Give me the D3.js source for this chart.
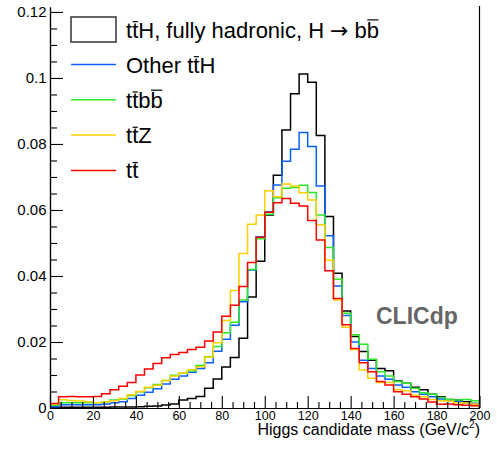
<!DOCTYPE html>
<html><head><meta charset="utf-8">
<script src="https://cdn.jsdelivr.net/npm/d3@7"></script>
<style>
body{margin:0;background:#fff}
svg{display:block}
text{font-family:"Liberation Sans",Arial,Helvetica,sans-serif}
</style>
</head><body>
<svg id="chart" width="497" height="449"></svg>
<script>
// ---- data ----
const binEdges = [0,4,8,12,16,20,24,28,32,36,40,44,48,52,56,60,64,68,72,76,80,84,88,92,96,100,
  104,108,112,116,120,124,128,132,136,140,144,148,152,156,160,164,168,172,176,180,184,188,192,196,200];

const ttHHadronic = [0.0001,0.0002,0.0002,0.0002,0.0002,0.0002,0.0002,0.0003,0.0003,0.0003,
  0.0004,0.0005,0.0006,0.0009,0.0012,0.0024,0.0029,0.0035,0.0060,0.0088,
  0.0124,0.0153,0.0211,0.0336,0.0445,0.0585,0.0705,0.0842,0.0952,0.1012,
  0.0987,0.0826,0.0580,0.0408,0.0294,0.0217,0.0171,0.0145,0.0120,0.0113,
  0.0082,0.0075,0.0063,0.0055,0.0042,0.0034,0.0026,0.0024,0.0019,0.0014];

const otherTTH = [0.0004,0.0010,0.0010,0.0010,0.0010,0.0010,0.0012,0.0016,0.0019,0.0029,
  0.0039,0.0048,0.0058,0.0073,0.0087,0.0097,0.0108,0.0120,0.0137,0.0172,
  0.0208,0.0251,0.0322,0.0418,0.0519,0.0595,0.0676,0.0748,0.0784,0.0835,
  0.0792,0.0673,0.0522,0.0370,0.0280,0.0200,0.0145,0.0120,0.0097,0.0087,
  0.0070,0.0063,0.0049,0.0042,0.0034,0.0027,0.0024,0.0019,0.0016,0.0014];

const ttbb = [0.0008,0.0016,0.0016,0.0016,0.0016,0.0016,0.0019,0.0024,0.0027,0.0038,
  0.0049,0.0061,0.0071,0.0083,0.0099,0.0105,0.0112,0.0129,0.0155,0.0186,
  0.0228,0.0260,0.0327,0.0420,0.0513,0.0587,0.0637,0.0666,0.0668,0.0675,
  0.0653,0.0585,0.0486,0.0390,0.0287,0.0222,0.0193,0.0148,0.0110,0.0097,
  0.0080,0.0075,0.0060,0.0046,0.0042,0.0032,0.0026,0.0024,0.0026,0.0022];

const ttZ = [0.0012,0.0025,0.0023,0.0021,0.0019,0.0016,0.0018,0.0022,0.0029,0.0040,
  0.0050,0.0063,0.0069,0.0083,0.0097,0.0106,0.0116,0.0125,0.0154,0.0198,
  0.0265,0.0356,0.0468,0.0557,0.0585,0.0658,0.0640,0.0679,0.0673,0.0652,
  0.0630,0.0555,0.0448,0.0327,0.0245,0.0177,0.0115,0.0090,0.0077,0.0077,
  0.0055,0.0052,0.0039,0.0034,0.0026,0.0022,0.0021,0.0016,0.0015,0.0012];

const ttbar = [0.0014,0.0034,0.0035,0.0034,0.0034,0.0035,0.0043,0.0055,0.0066,0.0077,
  0.0100,0.0118,0.0135,0.0152,0.0162,0.0168,0.0177,0.0184,0.0203,0.0230,
  0.0278,0.0311,0.0368,0.0441,0.0517,0.0593,0.0622,0.0635,0.0620,0.0612,
  0.0568,0.0509,0.0416,0.0332,0.0252,0.0180,0.0137,0.0110,0.0080,0.0070,
  0.0049,0.0042,0.0034,0.0027,0.0018,0.0011,0.0012,0.0010,0.0008,0.0007];

const xTickValues = [0,20,40,60,80,100,120,140,160,180,200];
const xMinorValues = [5,10,15,25,30,35,45,50,55,65,70,75,85,90,95,105,110,115,125,130,135,145,150,155,165,170,175,185,190,195];
const yTickValues = [0,0.02,0.04,0.06,0.08,0.1,0.12];
const yTickLabels = ["0","0.02","0.04","0.06","0.08","0.1","0.12"];
const yMinorValues = [0.005,0.01,0.015,0.025,0.03,0.035,0.045,0.05,0.055,0.065,0.07,0.075,0.085,0.09,0.095,0.105,0.11,0.115];

const seriesColors = ["#000000","#0a5fff","#2be82b","#ffd000","#ff0000"];
const seriesValues = [ttHHadronic, otherTTH, ttbb, ttZ, ttbar];

// ---- layout ----
const L = 50, R = 479.5, T = 7, B = 408;
const svg = d3.select("#chart");
const x = d3.scaleLinear().domain([0,200]).range([L,R]);
const y = d3.scaleLinear().domain([0,0.1215]).range([B,T]);

svg.append("defs").append("clipPath").attr("id","clip")
  .append("rect").attr("x",L).attr("y",T).attr("width",R-L).attr("height",B-T);

// histograms
const line = d3.line().x(d=>x(d[0])).y(d=>y(d[1])).curve(d3.curveStepAfter);
[0,1,2,3,4].forEach(si=>{
  const vals = seriesValues[si];
  const pts = [[binEdges[0],0]];
  vals.forEach((v,i)=>pts.push([binEdges[i],v]));
  pts.push([binEdges[binEdges.length-1], vals[vals.length-1]]);
  pts.push([binEdges[binEdges.length-1], 0]);
  svg.append("path").attr("d",line(pts)).attr("fill","none")
    .attr("stroke",seriesColors[si]).attr("stroke-width",1.5)
    .attr("clip-path","url(#clip)");
});

// axes
function styleAxis(g){ g.attr("font-family",null).attr("font-size",null); g.select(".domain").attr("stroke","#000").attr("stroke-width",1.2); g.selectAll(".tick line").attr("stroke","#000").attr("stroke-width",1.1); }

const xMinorAxis = d3.axisBottom(x).tickValues(xMinorValues).tickSizeInner(-6).tickSizeOuter(0).tickFormat("");
svg.append("g").attr("transform",`translate(0,${B})`).call(xMinorAxis).call(styleAxis);
const xAxis = d3.axisBottom(x).tickValues(xTickValues).tickSizeInner(-12).tickSizeOuter(0).tickPadding(3).tickFormat(d3.format("d"));
const gx = svg.append("g").attr("transform",`translate(0,${B})`).call(xAxis).call(styleAxis);
gx.selectAll("text").attr("font-size",12.5).attr("fill","#000");

const yMinorAxis = d3.axisLeft(y).tickValues(yMinorValues).tickSizeInner(-7).tickSizeOuter(0).tickFormat("");
svg.append("g").attr("transform",`translate(${L},0)`).call(yMinorAxis).call(styleAxis);
const yAxis = d3.axisLeft(y).tickValues(yTickValues).tickSizeInner(-13).tickSizeOuter(0).tickPadding(3.5)
  .tickFormat((d,i)=>yTickLabels[i]);
const gy = svg.append("g").attr("transform",`translate(${L},0)`).call(yAxis).call(styleAxis);
gy.selectAll("text").attr("font-size",15).attr("fill","#000");

// right frame line
svg.append("line").attr("x1",R).attr("x2",R).attr("y1",T-1).attr("y2",B).attr("stroke","#000").attr("stroke-width",1.2);

// x title
const xt = svg.append("text").attr("x",480).attr("y",434.5).attr("text-anchor","end").attr("font-size",16).attr("fill","#000");
xt.append("tspan").text("Higgs candidate mass (GeV/c");
xt.append("tspan").attr("font-size",10).attr("dy",-7).text("2");
xt.append("tspan").attr("dy",7).text(")");

// CLICdp label
svg.append("text").attr("x",376).attr("y",324).attr("font-size",23).attr("font-weight","bold")
  .attr("fill","#666").text("CLICdp");

// legend
const legendLabels = [
  [["t"],["t",1],["H, fully hadronic, H"],["\u2192",0,"DejaVu Sans",6],["b",0,null,6],["b",1]],
  [["Other t"],["t",1],["H"]],
  [["t"],["t",1],["b"],["b",1]],
  [["t"],["t",1],["Z"]],
  [["t"],["t",1]]
];
const rowCenters = [29.5, 64.5, 99.8, 135.1, 170.4];
const fs = 22;
const lg = svg.append("g");
legendLabels.forEach((parts,i)=>{
  const cy = rowCenters[i];
  if(i===0){
    lg.append("rect").attr("x",71).attr("y",cy-12.5).attr("width",45).attr("height",25)
      .attr("fill","#fff").attr("stroke","#333").attr("stroke-width",1.5);
  } else {
    lg.append("line").attr("x1",71).attr("x2",116).attr("y1",cy).attr("y2",cy)
      .attr("stroke",seriesColors[i]).attr("stroke-width",1.5);
  }
  let cx = 126;
  const base = cy + 8;
  parts.forEach(p=>{
    cx += (p[3]||0);
    const t = lg.append("text").attr("x",cx).attr("y",base).attr("font-size",fs)
      .attr("fill","#000").style("white-space","pre").text(p[0]);
    if(p[2]) t.style("font-family",p[2]);
    const w = t.node().getComputedTextLength();
    if(p[1]){
      const hy = base - fs*(p[0]==="b" ? 0.80 : 0.72);
      lg.append("line").attr("x1",cx+0.5).attr("x2",cx+w-0.5).attr("y1",hy).attr("y2",hy)
        .attr("stroke","#000").attr("stroke-width",1.2);
    }
    cx += w;
  });
});
</script>
</body></html>
